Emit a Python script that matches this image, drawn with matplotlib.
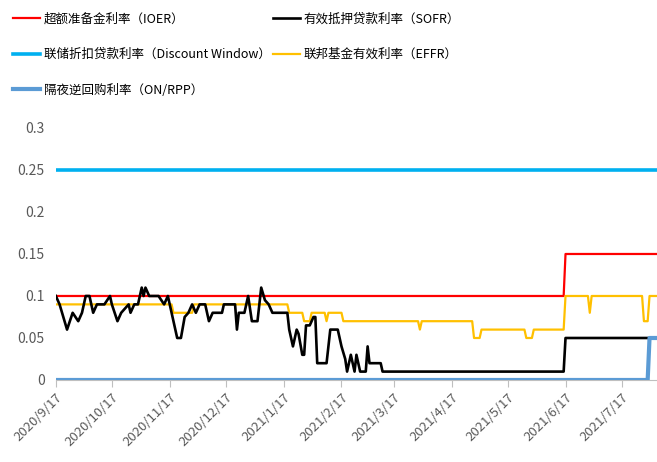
import matplotlib
matplotlib.use("Agg")
import matplotlib.pyplot as plt
import pandas as pd

plt.rcParams['font.family'] = ['Noto Sans CJK SC', 'DejaVu Sans']

# ---- data ----
ioer_dates = ["2020-09-17", "2021-06-16", "2021-06-17", "2021-08-05"]
ioer_vals = [0.10, 0.10, 0.15, 0.15]

dw_dates = ["2020-09-17", "2021-08-05"]
dw_vals = [0.25, 0.25]

onrrp_dates = ["2020-09-17", "2021-07-31", "2021-08-01", "2021-08-05"]
onrrp_vals = [0.0, 0.0, 0.05, 0.05]

sofr_dates = ["2020-09-17", "2020-09-19", "2020-09-23", "2020-09-26", "2020-09-29",
              "2020-10-01", "2020-10-03", "2020-10-05", "2020-10-07", "2020-10-09",
              "2020-10-13", "2020-10-16", "2020-10-17", "2020-10-20", "2020-10-22",
              "2020-10-24", "2020-10-26", "2020-10-27", "2020-10-29", "2020-10-31",
              "2020-11-02", "2020-11-03", "2020-11-04", "2020-11-06", "2020-11-11",
              "2020-11-14", "2020-11-16", "2020-11-18", "2020-11-21", "2020-11-23",
              "2020-11-25", "2020-11-27", "2020-11-29", "2020-12-01", "2020-12-03",
              "2020-12-06", "2020-12-08", "2020-12-10", "2020-12-15", "2020-12-16",
              "2020-12-22", "2020-12-23", "2020-12-24", "2020-12-27", "2020-12-29",
              "2020-12-31", "2021-01-03", "2021-01-05", "2021-01-07", "2021-01-09",
              "2021-01-11", "2021-01-19", "2021-01-20", "2021-01-22", "2021-01-24",
              "2021-01-25", "2021-01-27", "2021-01-28", "2021-01-29", "2021-01-31",
              "2021-02-02", "2021-02-03", "2021-02-04", "2021-02-09", "2021-02-11",
              "2021-02-15", "2021-02-17", "2021-02-19", "2021-02-20", "2021-02-22",
              "2021-02-24", "2021-02-25", "2021-02-27", "2021-03-02", "2021-03-03",
              "2021-03-04", "2021-03-10", "2021-03-11", "2021-06-16", "2021-06-17",
              "2021-08-05"]
sofr_vals = [0.10, 0.09, 0.06, 0.08, 0.07,
             0.08, 0.10, 0.10, 0.08, 0.09,
             0.09, 0.10, 0.09, 0.07, 0.08,
             0.085, 0.09, 0.08, 0.09, 0.09,
             0.11, 0.10, 0.11, 0.10, 0.10,
             0.09, 0.10, 0.08, 0.05, 0.05,
             0.075, 0.08, 0.09, 0.08, 0.09,
             0.09, 0.07, 0.08, 0.08, 0.09,
             0.09, 0.06, 0.08, 0.08, 0.10,
             0.07, 0.07, 0.11, 0.095, 0.09,
             0.08, 0.08, 0.06, 0.04, 0.06,
             0.055, 0.03, 0.03, 0.065, 0.065,
             0.075, 0.075, 0.02, 0.02, 0.06,
             0.06, 0.04, 0.025, 0.01, 0.03,
             0.01, 0.03, 0.01, 0.01, 0.04,
             0.02, 0.02, 0.01, 0.01, 0.05,
             0.05]

effr_dates = ["2020-09-17", "2020-11-18", "2020-11-19", "2020-11-29", "2020-11-30",
              "2021-01-19", "2021-01-20", "2021-01-27", "2021-01-28", "2021-01-31",
              "2021-02-01", "2021-02-08", "2021-02-09", "2021-02-10", "2021-02-17",
              "2021-02-18", "2021-03-30", "2021-03-31", "2021-04-01", "2021-04-28",
              "2021-04-29", "2021-05-02", "2021-05-03", "2021-05-26", "2021-05-27",
              "2021-05-30", "2021-05-31", "2021-06-16", "2021-06-17", "2021-06-29",
              "2021-06-30", "2021-07-01", "2021-07-28", "2021-07-29", "2021-07-31",
              "2021-08-01", "2021-08-05"]
effr_vals = [0.09, 0.09, 0.08, 0.08, 0.09,
             0.09, 0.08, 0.08, 0.07, 0.07,
             0.08, 0.08, 0.07, 0.08, 0.08,
             0.07, 0.07, 0.06, 0.07, 0.07,
             0.05, 0.05, 0.06, 0.06, 0.05,
             0.05, 0.06, 0.06, 0.10, 0.10,
             0.08, 0.10, 0.10, 0.07, 0.07,
             0.10, 0.10]

tick_dates = ["2020-09-17", "2020-10-17", "2020-11-17", "2020-12-17", "2021-01-17",
              "2021-02-17", "2021-03-17", "2021-04-17", "2021-05-17", "2021-06-17",
              "2021-07-17"]
tick_labels = ["2020/9/17", "2020/10/17", "2020/11/17", "2020/12/17", "2021/1/17",
               "2021/2/17", "2021/3/17", "2021/4/17", "2021/5/17", "2021/6/17",
               "2021/7/17"]
y_ticks = [0, 0.05, 0.1, 0.15, 0.2, 0.25, 0.3]
y_labels = ["0", "0.05", "0.1", "0.15", "0.2", "0.25", "0.3"]

fig = plt.figure(figsize=(6.57, 4.62), dpi=100)
ax = fig.add_axes([0.085, 0.1775, 0.915, 0.5455])

d = pd.to_datetime
ax.plot(d(ioer_dates), ioer_vals, color="#FF0000", lw=1.6, label="超额准备金利率（IOER）", zorder=3)
ax.plot(d(dw_dates), dw_vals, color="#00B0F0", lw=2.6, label="联储折扣贷款利率（Discount Window）", zorder=3)
ax.plot(d(onrrp_dates), onrrp_vals, color="#5B9BD5", lw=3.0, label="隔夜逆回购利率（ON/RPP）", zorder=5)
ax.plot(d(sofr_dates), sofr_vals, color="#000000", lw=1.9, label="有效抵押贷款利率（SOFR）", zorder=4)
ax.plot(d(effr_dates), effr_vals, color="#FFC000", lw=1.6, label="联邦基金有效利率（EFFR）", zorder=3)

ax.set_xlim(d("2020-09-17"), d("2021-08-05"))
ax.set_ylim(0, 0.3)
ax.set_yticks(y_ticks)
ax.set_yticklabels(y_labels, color="#595959", fontsize=10)
ax.set_xticks(d(tick_dates))
ax.set_xticklabels(tick_labels, rotation=45, ha="right", rotation_mode="anchor",
                   color="#595959", fontsize=9.5)
ax.tick_params(axis="y", length=0, pad=8)
ax.tick_params(axis="x", length=5, color="#BFBFBF", direction="out", pad=3)
for s in ["top", "right", "left"]:
    ax.spines[s].set_visible(False)
ax.spines["bottom"].set_color("#BFBFBF")

# two-column legend at the top: col1 = IOER, DW, ON/RPP ; col2 = SOFR, EFFR
fig.legend(loc="upper left", bbox_to_anchor=(0.0, 1.0), ncol=2, frameon=False,
           fontsize=9, handlelength=2.2, handletextpad=0.3, columnspacing=0.15,
           labelspacing=1.8, borderaxespad=0.6)

fig.savefig("out.png", dpi=100)
